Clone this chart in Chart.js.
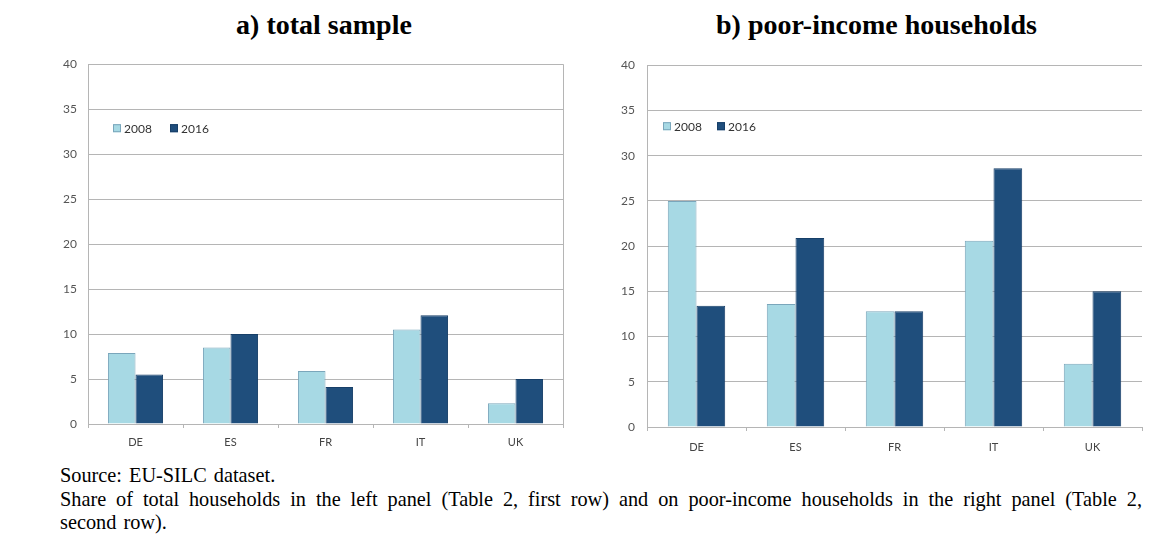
<!DOCTYPE html>
<html>
<head>
<meta charset="utf-8">
<script src="https://cdn.jsdelivr.net/npm/chart.js@4/dist/chart.umd.min.js"></script>
<style>
  body { margin: 0; background: #fff; width: 1150px; height: 534px; position: relative; overflow: hidden; }
  .title { position: absolute; top: 9px; font: bold 28px/32px "Liberation Serif", "Times New Roman", serif; color: #000; text-align: center; }
  canvas { position: absolute; top: 46px; }
  .note { position: absolute; left: 60px; top: 464px; width: 1082px; font: 20.3px/23.5px "Liberation Serif", "Times New Roman", serif; word-spacing: 2px; color: #000; text-align: justify; }
</style>
</head>
<body>
<div class="title" style="left:0;width:648px">a) total sample</div>
<div class="title" style="left:602px;width:549px">b) poor-income households</div>
<canvas id="left" width="575" height="410" style="left:0"></canvas>
<canvas id="right" width="575" height="410" style="left:575px"></canvas>
<div class="note">Source: EU-SILC dataset.<br>Share of total households in the left panel (Table 2, first row) and on poor-income households in the right panel (Table 2, second row).</div>
<script>
const countries = ['DE', 'ES', 'FR', 'IT', 'UK'];
const years = ['2008', '2016'];
const total2008 = [7.9, 8.5, 5.9, 10.5, 2.3];
const total2016 = [5.5, 10.0, 4.1, 12.1, 5.0];
const poor2008 = [25.0, 13.6, 12.8, 20.6, 7.0];
const poor2016 = [13.4, 20.9, 12.8, 28.6, 15.0];
const yMin = 0, yMax = 40, yStep = 5;

const fills = ['#a7d9e4', '#1f4e7c'];
const edges = ['#7aa6bb', '#173f68'];
const gridColor = '#b5b5b5';

// legend drawn inside the plot, like the original
let insideLegend = {
  id: 'insideLegend',
  afterDraw(chart, args, opts) {
    let ctx = chart.ctx;
    let a = chart.chartArea;
    let x = a.left + opts.x;
    let y = a.top + opts.y;
    ctx.save();
    ctx.font = '12px Lato';
    ctx.textBaseline = 'middle';
    chart.data.datasets.forEach(ds => {
      ctx.fillStyle = ds.backgroundColor;
      ctx.fillRect(x, y - 4, 8, 8);
      ctx.strokeStyle = ds.borderColor;
      ctx.lineWidth = 1;
      ctx.strokeRect(x + 0.5, y - 3.5, 7, 7);
      ctx.fillStyle = '#333';
      ctx.fillText(ds.label, x + 11, y + 0.5);
      x += opts.gap;
    });
    ctx.restore();
  }
};

let frame = {
  id: 'frame',
  afterDraw(chart, args, opts) {
    if (!opts.right) return;
    let ctx = chart.ctx;
    let a = chart.chartArea;
    ctx.save();
    ctx.strokeStyle = gridColor;
    ctx.lineWidth = 1;
    ctx.beginPath();
    ctx.moveTo(Math.round(a.right) + 0.5, a.top);
    ctx.lineTo(Math.round(a.right) + 0.5, a.bottom);
    ctx.stroke();
    ctx.restore();
  }
};

let drawPanel = (id, v2008, v2016, g) => {
  new Chart(document.getElementById(id), {
    type: 'bar',
    data: {
      labels: countries,
      datasets: [v2008, v2016].map((vals, i) => ({
        label: years[i],
        data: vals,
        backgroundColor: fills[i],
        borderColor: edges[i],
        borderWidth: 1,
        categoryPercentage: 0.58,
        barPercentage: 1.0
      }))
    },
    options: {
      responsive: false,
      animation: false,
      layout: { padding: { top: 0, right: g.right, left: 0, bottom: 0 } },
      plugins: {
        legend: { display: false },
        tooltip: { enabled: false },
        insideLegend: { x: g.legX, y: g.legY, gap: g.legGap },
        frame: { right: g.frame }
      },
      scales: {
        x: {
          afterFit: s => { s.height = g.xh; },
          grid: { display: true, drawOnChartArea: false, drawTicks: true, tickLength: 4, offset: true, color: gridColor },
          border: { display: true, color: gridColor },
          ticks: { color: '#444', font: { family: 'Lato', size: 11 }, padding: g.xPad }
        },
        y: {
          min: yMin,
          max: yMax,
          afterFit: s => { s.width = g.yw; },
          grid: { color: gridColor, drawTicks: false },
          border: { display: true, color: gridColor },
          ticks: { stepSize: yStep, color: '#555', font: { family: 'Lato', size: 12 }, padding: g.yPad }
        }
      }
    },
    plugins: [insideLegend, frame]
  });
};

drawPanel('left', total2008, total2016, { right: 12, yw: 88, xh: 32, xPad: 8, yPad: 11, legX: 25, legY: 64, legGap: 57, frame: true });
drawPanel('right', poor2008, poor2016, { right: 8, yw: 72, xh: 29, xPad: 10, yPad: 12, legX: 16, legY: 61, legGap: 54, frame: false });
</script>
</body>
</html>
